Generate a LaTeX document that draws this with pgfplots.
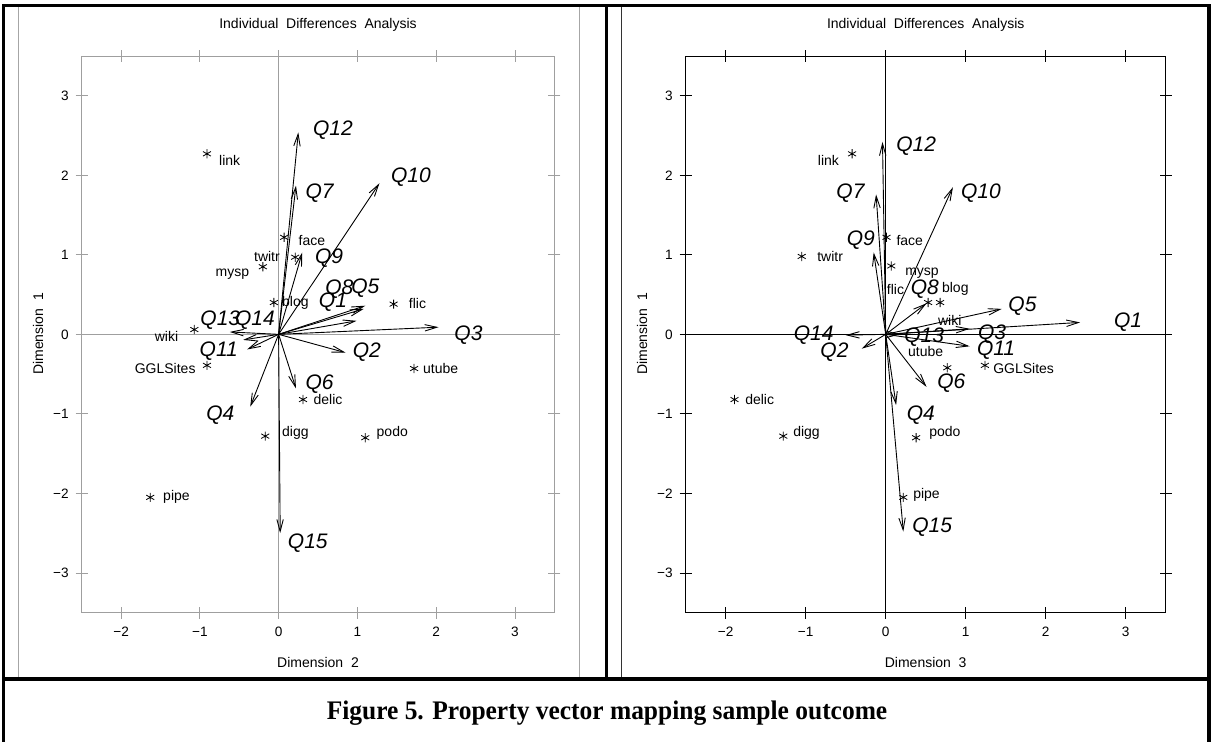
\documentclass[border=0pt]{standalone}
\usepackage{pgfplots}
\pgfplotsset{compat=1.18}
\usepackage{fontspec}
\setmainfont{Liberation Sans}
\newfontfamily\capfont{Liberation Serif}
\usetikzlibrary{arrows.meta}

\pgfplotsset{
  mds/.style={
    scale only axis, height=278.35pt,
    xmin=-2.5, xmax=3.5, ymin=-3.5, ymax=3.5,
    xtick={-2,-1,0,1,2,3}, ytick={-3,-2,-1,0,1,2,3},
    xticklabels={−2,−1,0,1,2,3},
    yticklabels={−3,−2,−1,0,1,2,3},
    tick align=center, major tick length=6pt,
    tick label style={font=\fontsize{6.8}{7}\selectfont},
    xticklabel style={yshift=-0.5pt},
    /pgf/number format/assume math mode=true,
    clip=false,
    anchor=south west,
  },
  vec/.style={black, line width=0.45pt, -{Straight Barb[length=6pt,width=3.2pt]}},
  star/.style={only marks, mark=asterisk, mark size=2.3pt, mark options={line width=0.4pt}, black},
}
\newcommand{\Q}[1]{\fontsize{10.5}{12}\selectfont\itshape #1}
\newcommand{\obs}{\fontsize{7}{8}\selectfont}

\begin{document}
\begin{tikzpicture}[x=1pt,y=1pt]
\path[use as bounding box] (0,0) rectangle (606,371);

% inner thin frames
\draw[gray!70, line width=0.5pt] (9.15,31.5) -- (9.15,368) (289.65,31.5) -- (289.65,368);
\draw[black!80, line width=0.5pt] (310.85,31.5) -- (310.85,368);

% ---------------- left panel ----------------
\begin{axis}[mds, at={(40.85pt,64.65pt)}, width=236.3pt,
  axis line style={gray!75}, every tick/.style={gray!75}]
\addplot[gray!75, line width=0.4pt] coordinates {(0,-3.5) (0,3.5)};
\addplot[gray!75, line width=0.4pt] coordinates {(-2.5,0) (3.5,0)};
% vectors
\addplot[vec] coordinates {(0,0) (1.08,0.32)};
\addplot[vec] coordinates {(0,0) (0.85,-0.23)};
\addplot[vec] coordinates {(0,0) (2.03,0.09)};
\addplot[vec] coordinates {(0,0) (-0.36,-0.91)};
\addplot[vec] coordinates {(0,0) (1.10,0.36)};
\addplot[vec] coordinates {(0,0) (0.22,-0.68)};
\addplot[vec] coordinates {(0,0) (0.22,1.87)};
\addplot[vec] coordinates {(0,0) (0.99,0.17)};
\addplot[vec] coordinates {(0,0) (0.30,1.03)};
\addplot[vec] coordinates {(0,0) (1.28,1.90)};
\addplot[vec] coordinates {(0,0) (-0.40,-0.19)};
\addplot[vec] coordinates {(0,0) (0.25,2.54)};
\addplot[vec] coordinates {(0,0) (-0.62,0.03)};
\addplot[vec] coordinates {(0,0) (-0.45,-0.07)};
\addplot[vec] coordinates {(0,0) (0.02,-2.50)};
% observations
\addplot[star] coordinates {(-0.91,2.27) (0.07,1.22) (0.21,0.97) (-0.20,0.85) (-0.06,0.40) (1.46,0.38)
  (-1.07,0.06) (-0.91,-0.39) (1.72,-0.43) (0.31,-0.82) (-0.17,-1.28) (1.10,-1.30) (-1.63,-2.05)};
\node[anchor=west, inner sep=0, font=\obs] at (axis cs:-0.76,2.19) {link};
\node[anchor=west, inner sep=0, font=\obs] at (axis cs:0.25,1.18) {face};
\node[anchor=east, inner sep=0, font=\obs] at (axis cs:0.02,0.98) {twitr};
\node[anchor=east, inner sep=0, font=\obs] at (axis cs:-0.37,0.76) {mysp};
\node[anchor=west, inner sep=0, font=\obs] at (axis cs:0.04,0.40) {blog};
\node[anchor=west, inner sep=0, font=\obs] at (axis cs:1.65,0.39) {flic};
\node[anchor=east, inner sep=0, font=\obs] at (axis cs:-1.27,-0.03) {wiki};
\node[anchor=east, inner sep=0, font=\obs] at (axis cs:-1.05,-0.43) {GGLSites};
\node[anchor=west, inner sep=0, font=\obs] at (axis cs:1.83,-0.43) {utube};
\node[anchor=west, inner sep=0, font=\obs] at (axis cs:0.44,-0.82) {delic};
\node[anchor=west, inner sep=0, font=\obs] at (axis cs:0.04,-1.24) {digg};
\node[anchor=west, inner sep=0, font=\obs] at (axis cs:1.24,-1.24) {podo};
\node[anchor=west, inner sep=0, font=\obs] at (axis cs:-1.47,-2.04) {pipe};
% vector labels
\node[inner sep=0] at (axis cs:0.69,0.41) {\Q{Q1}};
\node[inner sep=0] at (axis cs:1.12,-0.22) {\Q{Q2}};
\node[inner sep=0] at (axis cs:2.41,-0.01) {\Q{Q3}};
\node[inner sep=0] at (axis cs:-0.74,-1.02) {\Q{Q4}};
\node[inner sep=0] at (axis cs:1.10,0.58) {\Q{Q5}};
\node[inner sep=0] at (axis cs:0.52,-0.63) {\Q{Q6}};
\node[inner sep=0] at (axis cs:0.52,1.78) {\Q{Q7}};
\node[inner sep=0] at (axis cs:0.77,0.57) {\Q{Q8}};
\node[inner sep=0] at (axis cs:0.64,0.96) {\Q{Q9}};
\node[inner sep=0] at (axis cs:1.68,1.98) {\Q{Q10}};
\node[inner sep=0] at (axis cs:-0.76,-0.21) {\Q{Q11}};
\node[inner sep=0] at (axis cs:0.69,2.57) {\Q{Q12}};
\node[inner sep=0] at (axis cs:-0.74,0.18) {\Q{Q13}};
\node[inner sep=0] at (axis cs:-0.30,0.18) {\Q{Q14}};
\node[inner sep=0] at (axis cs:0.37,-2.63) {\Q{Q15}};
\end{axis}

% ---------------- right panel ----------------
\begin{axis}[mds, at={(342.85pt,64.65pt)}, width=240pt,
  axis line style={black}, every tick/.style={black}]
\addplot[black, line width=0.4pt] coordinates {(0,-3.5) (0,3.5)};
\addplot[black, line width=0.4pt] coordinates {(-2.5,0) (3.5,0)};
% vectors
\addplot[vec] coordinates {(0,0) (2.43,0.15)};
\addplot[vec] coordinates {(0,0) (-0.30,-0.18)};
\addplot[vec] coordinates {(0,0) (1.05,0.07)};
\addplot[vec] coordinates {(0,0) (0.13,-0.89)};
\addplot[vec] coordinates {(0,0) (1.45,0.32)};
\addplot[vec] coordinates {(0,0) (0.51,-0.66)};
\addplot[vec] coordinates {(0,0) (-0.12,1.76)};
\addplot[vec] coordinates {(0,0) (0.51,0.39)};
\addplot[vec] coordinates {(0,0) (-0.15,1.03)};
\addplot[vec] coordinates {(0,0) (0.84,1.85)};
\addplot[vec] coordinates {(0,0) (1.05,-0.15)};
\addplot[vec] coordinates {(0,0) (-0.04,2.42)};
\addplot[vec] coordinates {(0,0) (0.18,0.00)};
\addplot[vec] coordinates {(0,0) (-0.50,-0.01)};
\addplot[vec] coordinates {(0,0) (0.22,-2.48)};
% observations
\addplot[star] coordinates {(-0.42,2.27) (0.01,1.22) (-1.05,0.98) (0.07,0.86) (0.68,0.40) (0.53,0.40)
  (0.77,-0.42) (1.24,-0.39) (-1.89,-0.82) (-1.28,-1.28) (0.38,-1.30) (0.22,-2.05)};
\node[anchor=east, inner sep=0, font=\obs] at (axis cs:-0.58,2.19) {link};
\node[anchor=west, inner sep=0, font=\obs] at (axis cs:0.13,1.18) {face};
\node[anchor=west, inner sep=0, font=\obs] at (axis cs:-0.86,0.98) {twitr};
\node[anchor=west, inner sep=0, font=\obs] at (axis cs:0.24,0.77) {mysp};
\node[anchor=west, inner sep=0, font=\obs] at (axis cs:0.01,0.57) {flic};
\node[anchor=west, inner sep=0, font=\obs] at (axis cs:0.70,0.57) {blog};
\node[anchor=west, inner sep=0, font=\obs] at (axis cs:0.65,0.18) {wiki};
\node[inner sep=0, font=\obs] at (axis cs:0.50,-0.22) {utube};
\node[anchor=west, inner sep=0, font=\obs] at (axis cs:1.34,-0.43) {GGLSites};
\node[anchor=west, inner sep=0, font=\obs] at (axis cs:-1.76,-0.82) {delic};
\node[anchor=west, inner sep=0, font=\obs] at (axis cs:-1.16,-1.24) {digg};
\node[anchor=west, inner sep=0, font=\obs] at (axis cs:0.54,-1.24) {podo};
\node[anchor=west, inner sep=0, font=\obs] at (axis cs:0.34,-2.02) {pipe};
% vector labels
\node[inner sep=0] at (axis cs:3.03,0.15) {\Q{Q1}};
\node[inner sep=0] at (axis cs:-0.64,-0.22) {\Q{Q2}};
\node[inner sep=0] at (axis cs:1.33,0.00) {\Q{Q3}};
\node[inner sep=0] at (axis cs:0.44,-1.02) {\Q{Q4}};
\node[inner sep=0] at (axis cs:1.71,0.36) {\Q{Q5}};
\node[inner sep=0] at (axis cs:0.82,-0.62) {\Q{Q6}};
\node[inner sep=0] at (axis cs:-0.44,1.78) {\Q{Q7}};
\node[inner sep=0] at (axis cs:0.49,0.57) {\Q{Q8}};
\node[inner sep=0] at (axis cs:-0.31,1.18) {\Q{Q9}};
\node[inner sep=0] at (axis cs:1.19,1.78) {\Q{Q10}};
\node[inner sep=0] at (axis cs:1.38,-0.20) {\Q{Q11}};
\node[inner sep=0] at (axis cs:0.38,2.37) {\Q{Q12}};
\node[inner sep=0] at (axis cs:0.48,-0.03) {\Q{Q13}};
\node[inner sep=0] at (axis cs:-0.90,-0.01) {\Q{Q14}};
\node[inner sep=0] at (axis cs:0.58,-2.42) {\Q{Q15}};
\end{axis}

% titles and axis labels
\node[font=\fontsize{7}{8}\selectfont] at (159,358.5) {Individual\ \ Differences\ \ Analysis};
\node[font=\fontsize{7}{8}\selectfont] at (462.85,358.5) {Individual\ \ Differences\ \ Analysis};
\node[font=\fontsize{7}{8}\selectfont] at (159,39.5) {Dimension\ \ 2};
\node[font=\fontsize{7}{8}\selectfont] at (462.85,39.5) {Dimension\ \ 3};
\node[font=\fontsize{7}{8}\selectfont, rotate=90] at (19,204) {Dimension\ \ 1};
\node[font=\fontsize{7}{8}\selectfont, rotate=90] at (321,204) {Dimension\ \ 1};

% outer table frame
\draw[black, line width=1.6pt] (1.65,0) -- (1.65,368.15) -- (604.5,368.15) -- (604.5,0);
\draw[black, line width=1.6pt] (303.35,368.15) -- (303.35,31.5);
\draw[black, line width=1.6pt] (1.65,31.5) -- (604.5,31.5);

% caption
\node[font=\capfont\bfseries\fontsize{13.4}{15}\selectfont, xscale=0.95] at (303.5,14.5) {Figure 5. Property vector mapping sample outcome};
\end{tikzpicture}
\end{document}
